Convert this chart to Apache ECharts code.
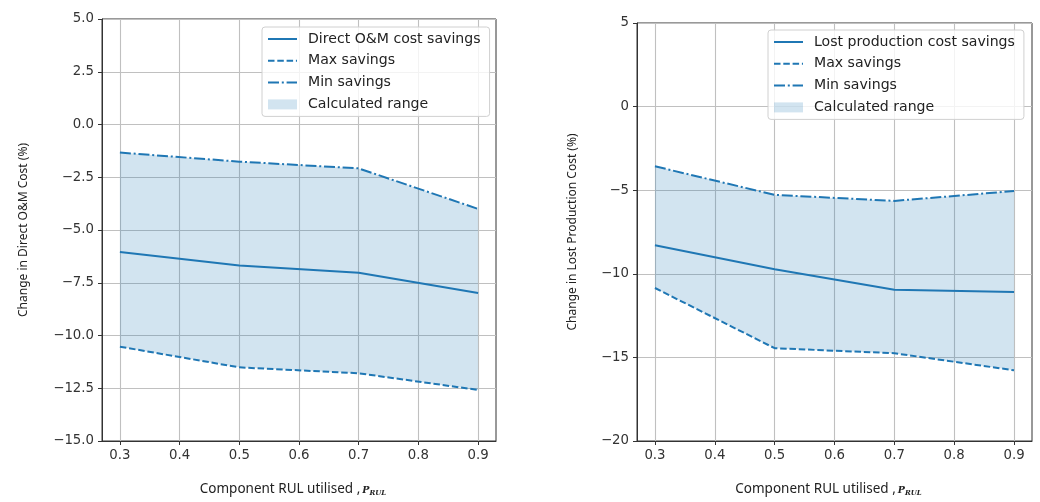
<!DOCTYPE html>
<html><head><meta charset="utf-8">
<script src="https://cdn.jsdelivr.net/npm/echarts@6/dist/echarts.min.js"></script>
<style>html,body{margin:0;padding:0;background:#fff}#c{width:1040px;height:502px}</style>
</head><body><div id="c"></div>
<script>
const xVals = [0.3, 0.5, 0.7, 0.9];
const xTicks = [0.3, 0.4, 0.5, 0.6, 0.7, 0.8, 0.9];

const omSavings = [-6.04, -6.68, -7.03, -7.99];
const omMax = [-10.53, -11.51, -11.79, -12.58];
const omMin = [-1.33, -1.76, -2.08, -4.0];

const lpSavings = [-8.29, -9.73, -10.95, -11.09];
const lpMax = [-10.85, -14.45, -14.75, -15.77];
const lpMin = [-3.57, -5.28, -5.64, -5.05];

const leftNames = ['Direct O&M cost savings', 'Max savings', 'Min savings', 'Calculated range'];
const rightNames = ['Lost production cost savings', 'Max savings', 'Min savings', 'Calculated range'];

const BLUE = '#1f77b4';
const FILL = 'rgba(31,119,180,0.2)';
const pairs = a => a.map((v, i) => [xVals[i], v]);
const minus = s => String(s).replace('-', '\u2212');

function xAxis(g) {
  return {
    type: 'value', gridIndex: g, min: 0.27, max: 0.93,
    name: 'Component RUL utilised ,{p|P}{s|RUL}',
    nameLocation: 'middle', nameGap: 40,
    nameTextStyle: { fontFamily: 'Noto Sans', fontSize: 13.5, color: '#222', padding: [0, 12, 0, 0],
      rich: { p: { fontFamily: 'DejaVu Serif', fontStyle: 'italic', fontWeight: 'bold', fontSize: 9.5, color: '#222', padding: [4, 0, 0, 2] },
              s: { fontFamily: 'DejaVu Serif', fontStyle: 'italic', fontWeight: 'bold', fontSize: 7, color: '#222', padding: [9, 0, 0, 0] } } },
    axisLine: { show: true, onZero: false, lineStyle: { color: '#333', width: 1 } },
    axisTick: { show: true, customValues: xTicks, length: 4, lineStyle: { color: '#333' } },
    axisLabel: { customValues: xTicks, formatter: v => v.toFixed(1), fontFamily: 'DejaVu Sans', fontSize: 13.3, color: '#333', margin: 8 },
    splitLine: { show: true, lineStyle: { color: '#c0c0c0', width: 1.1 } }
  };
}
function yAxis(g, min, max, interval, name, gap, dec) {
  return {
    type: 'value', gridIndex: g, min, max, interval,
    name, nameLocation: 'middle', nameGap: gap,
    nameTextStyle: { fontFamily: 'Noto Sans', fontSize: 12, color: '#222' },
    axisLine: { show: true, onZero: false, lineStyle: { color: '#333', width: 1 } },
    axisTick: { show: true, length: 4, lineStyle: { color: '#333' } },
    axisLabel: { formatter: v => minus(v.toFixed(dec)), fontFamily: 'DejaVu Sans', fontSize: 13.3, color: '#333', margin: 8 },
    splitLine: { show: true, lineStyle: { color: '#c0c0c0', width: 1.1 } }
  };
}
function bandSeries(g, name, mx, mn) {
  return {
    type: 'custom', name, xAxisIndex: g, yAxisIndex: g, silent: true, z: 1,
    itemStyle: { color: FILL },
    data: [[xVals[0], mx[0]]],
    renderItem: function (params, api) {
      const pts = [];
      for (let i = 0; i < xVals.length; i++) pts.push(api.coord([xVals[i], mn[i]]));
      for (let i = xVals.length - 1; i >= 0; i--) pts.push(api.coord([xVals[i], mx[i]]));
      return { type: 'polygon', shape: { points: pts }, style: { fill: FILL } };
    }
  };
}
function lineSeries(g, name, vals, type) {
  return { type: 'line', name, xAxisIndex: g, yAxisIndex: g, data: pairs(vals), symbol: 'none',
    itemStyle: { color: BLUE }, lineStyle: { color: BLUE, width: 2, type }, z: 3 };
}
function seriesFor(g, names, main, mx, mn) {
  return [
    bandSeries(g, names[3], mx, mn),
    lineSeries(g, names[0], main, 'solid'),
    lineSeries(g, names[1], mx, [6.5, 2.8]),
    lineSeries(g, names[2], mn, [11, 2.8, 2, 2.8])
  ];
}
const hideSym = { color: 'transparent', borderColor: 'transparent', borderWidth: 0, opacity: 0 };
function legend(names, left, top) {
  return {
    left, top, orient: 'vertical', itemWidth: 29, itemHeight: 10, itemGap: 7.8,
    padding: [5, 9, 5, 5], backgroundColor: 'rgba(255,255,255,0.8)', borderColor: '#d0d0d0', borderWidth: 1, borderRadius: 3,
    textStyle: { fontFamily: 'DejaVu Sans', fontSize: 14.1, color: '#222', lineHeight: 14, padding: [0, 0, 0, 6] },
    selectedMode: false,
    data: [
      { name: names[0], itemStyle: hideSym }, { name: names[1], itemStyle: hideSym }, { name: names[2], itemStyle: hideSym },
      { name: names[3], icon: 'rect', itemStyle: { color: FILL, opacity: 1 } }
    ]
  };
}

const chart = echarts.init(document.getElementById('c'), null, { renderer: 'canvas' });
chart.setOption({
  backgroundColor: '#fff',
  animation: false,
  grid: [
    { left: 102, top: 19, width: 394, height: 424, show: true, borderColor: '#333', borderWidth: 1, backgroundColor: 'transparent' },
    { left: 637, top: 23, width: 395, height: 424, show: true, borderColor: '#333', borderWidth: 1, backgroundColor: 'transparent' }
  ],
  xAxis: [xAxis(0), xAxis(1)],
  yAxis: [
    yAxis(0, -15, 5, 2.5, 'Change in Direct O&M Cost (%)', 72, 1),
    yAxis(1, -20, 5, 5, 'Change in Lost Production Cost (%)', 58, 0)
  ],
  legend: [legend(leftNames, 262, 27), legend(rightNames, 768, 30)],
  series: [
    ...seriesFor(0, leftNames, omSavings, omMax, omMin),
    ...seriesFor(1, rightNames, lpSavings, lpMax, lpMin)
  ]
});
</script></body></html>
